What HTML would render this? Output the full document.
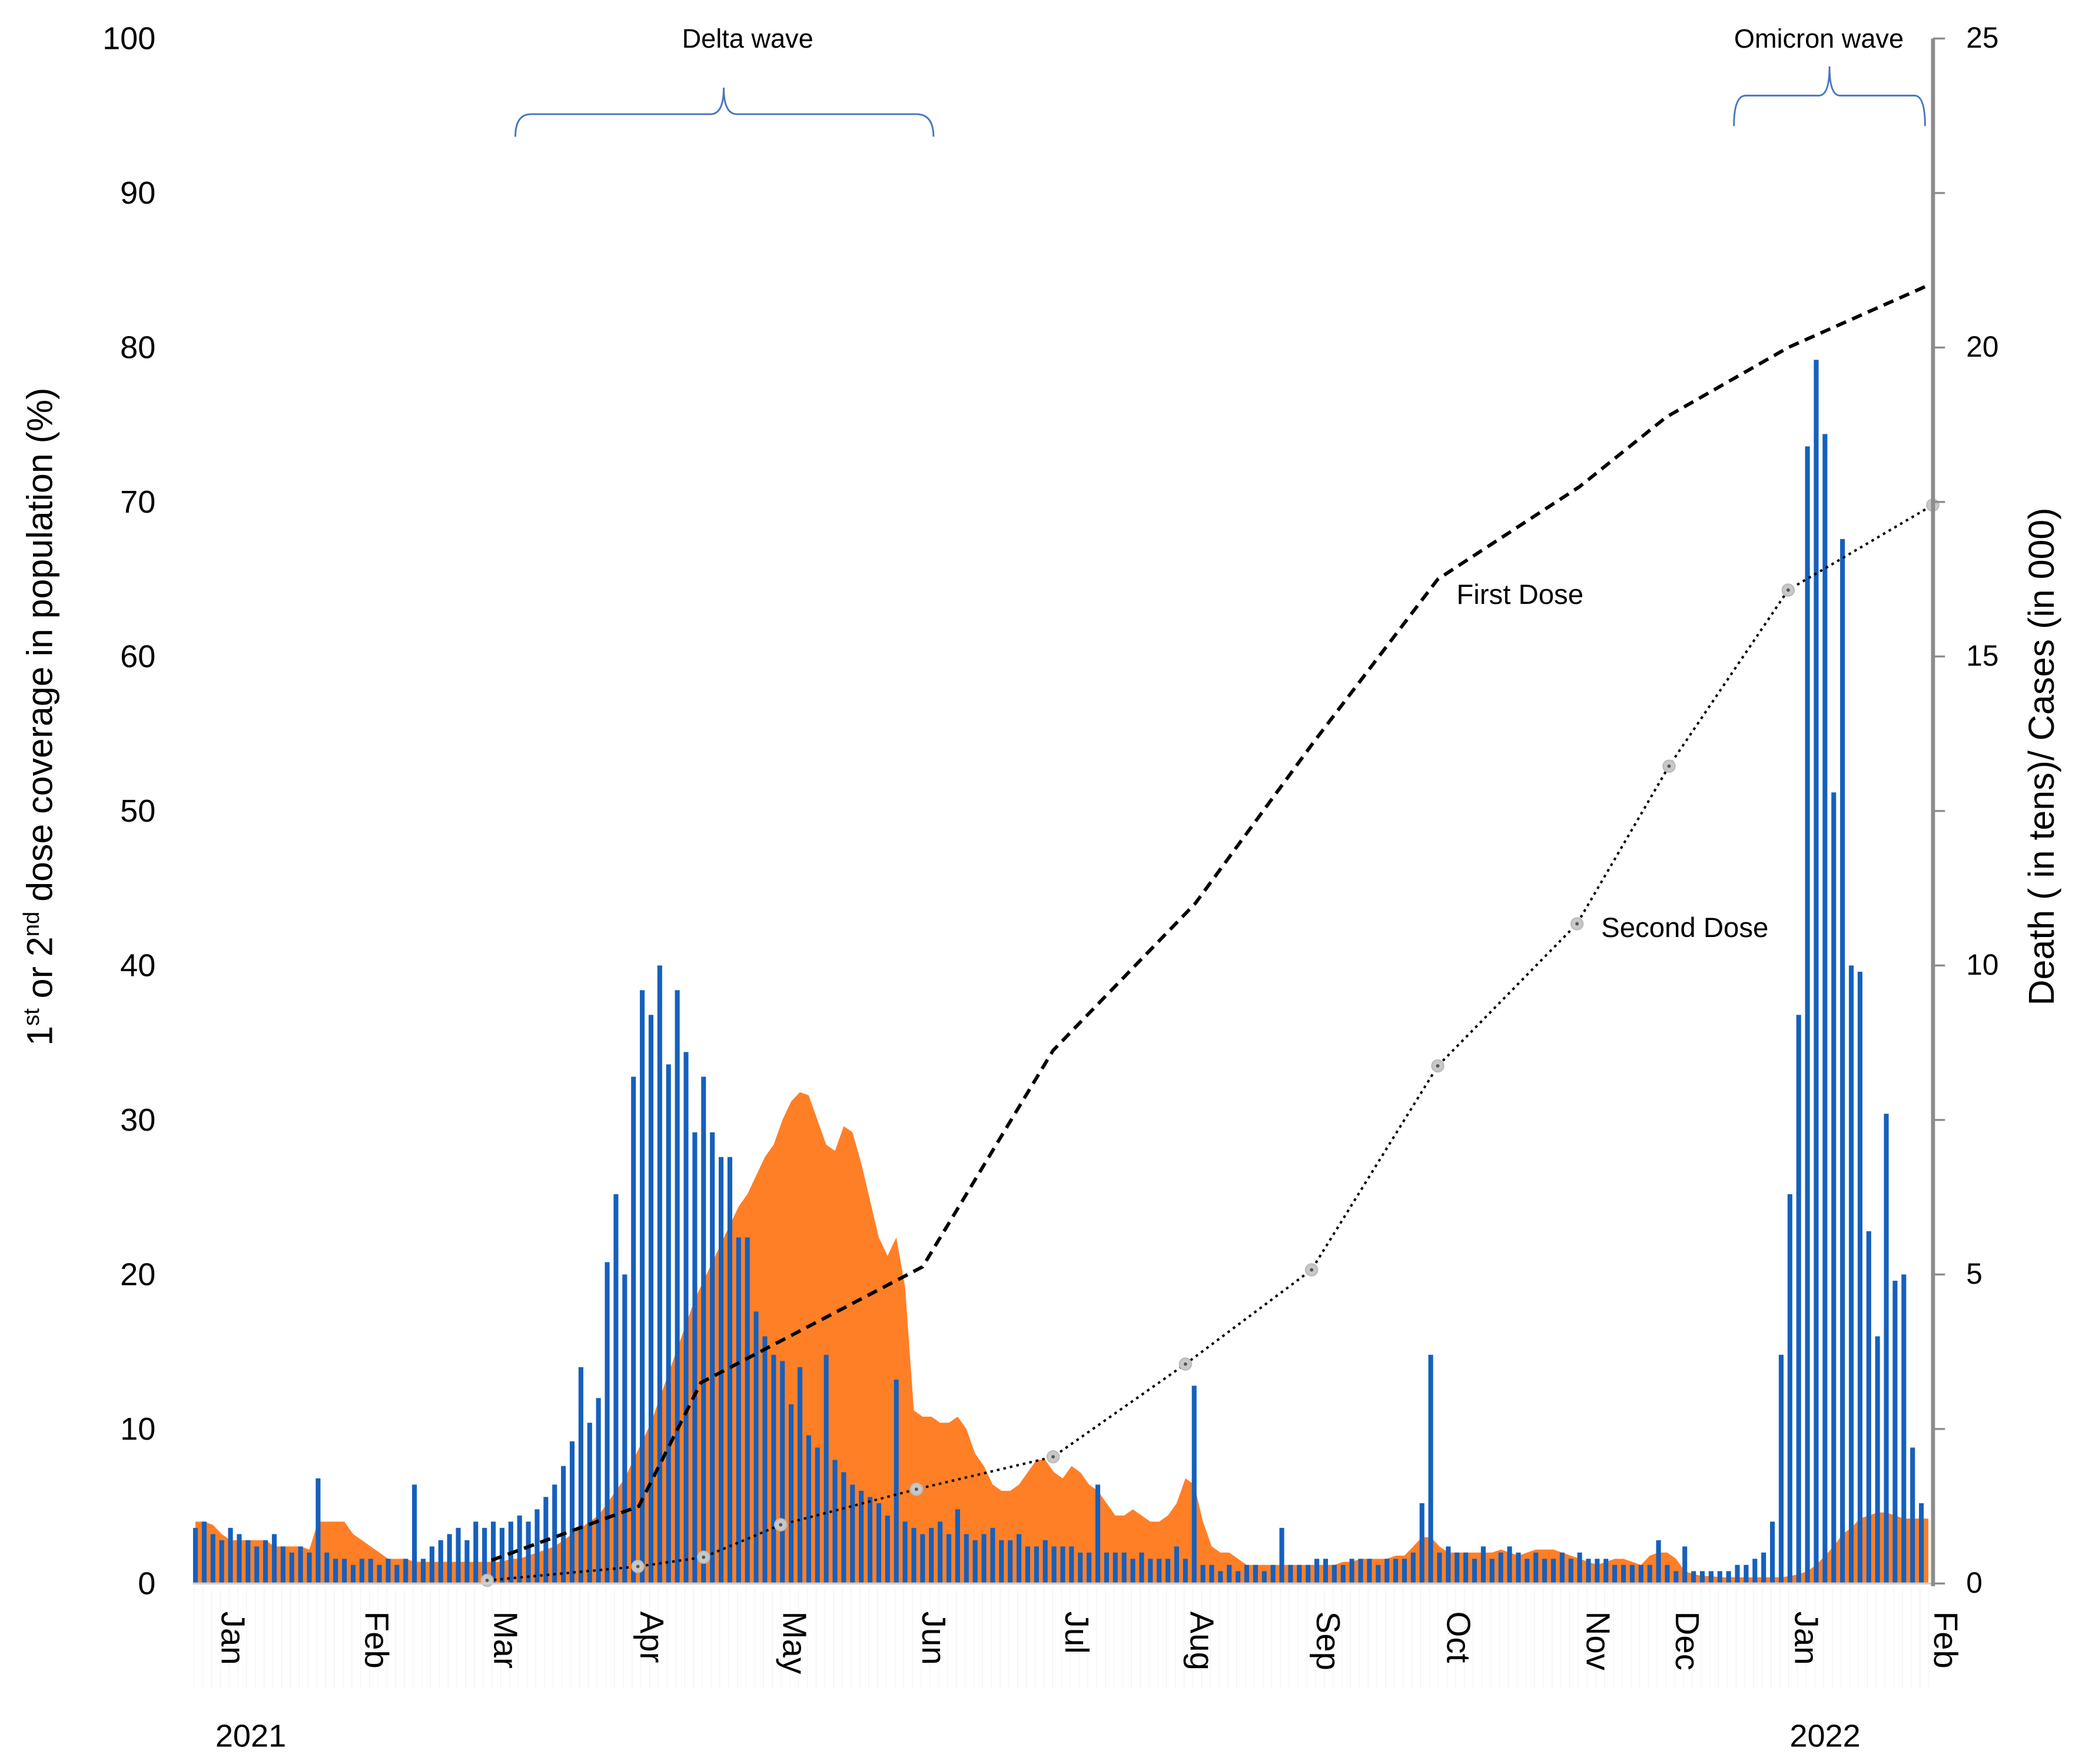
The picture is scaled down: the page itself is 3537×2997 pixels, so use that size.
<!DOCTYPE html>
<html><head><meta charset="utf-8"><style>
html,body{margin:0;padding:0;background:#fff;}
svg{display:block;}
text{font-family:"Liberation Sans",sans-serif;}
</style></head><body>
<svg id="chart" width="3537" height="2997" viewBox="0 0 1568 1329" xmlns="http://www.w3.org/2000/svg">
<g id="bg-layer"></g>
<g id="area-layer"></g>
<g id="bar-layer"></g>
<g id="line-layer"></g>
<g id="axis-layer"></g>
</svg>
<script>
const casesK = [0.9,1.0,0.8,0.7,0.9,0.8,0.7,0.6,0.7,0.8,0.6,0.5,0.6,0.5,1.7,0.5,0.4,
0.4,0.3,0.4,0.4,0.3,0.4,0.3,0.4,1.6,0.4,0.6,0.7,0.8,0.9,0.7,1.0,
0.9,1.0,0.9,1.0,1.1,1.0,1.2,1.4,1.6,1.9,2.3,3.5,2.6,3.0,5.2,6.3,
5.0,8.2,9.6,9.2,10.0,8.4,9.6,8.6,7.3,8.2,7.3,6.9,6.9,5.6,5.6,4.4,4.0,
3.7,3.6,2.9,3.5,2.4,2.2,3.7,2.0,1.8,1.6,1.5,1.4,1.3,1.1,3.3,1.0,0.9,0.8,
0.9,1.0,0.8,1.2,0.8,0.7,0.8,0.9,0.7,0.7,0.8,0.6,0.6,0.7,0.6,0.6,
0.6,0.5,0.5,1.6,0.5,0.5,0.5,0.4,0.5,0.4,0.4,0.4,0.6,0.4,3.2,
0.3,0.3,0.2,0.3,0.2,0.3,0.3,0.2,0.3,0.9,0.3,0.3,0.3,0.4,
0.4,0.3,0.3,0.4,0.4,0.4,0.3,0.4,0.4,0.4,0.5,1.3,3.7,0.5,0.6,
0.5,0.5,0.4,0.6,0.4,0.5,0.6,0.5,0.4,0.5,0.4,0.4,0.5,0.4,0.5,0.4,
0.4,0.4,0.3,0.3,0.3,0.3,0.3,0.7,0.3,0.2,0.6,0.2,0.2,0.2,0.2,0.2,
0.3,0.3,0.4,0.5,1.0,3.7,6.3,9.2,18.4,19.8,18.6,12.8,16.9,10.0,9.9,5.7,4.0,7.6,4.9,5.0,2.2,1.3];
const deathsTens = [1.0,1.0,0.95,0.8,0.7,0.7,0.7,0.7,0.7,0.6,0.6,0.6,0.6,0.55,1.0,1.0,1.0,
1.0,0.8,0.7,0.6,0.5,0.4,0.4,0.4,0.35,0.35,0.35,0.35,0.35,0.35,0.35,0.35,
0.35,0.35,0.35,0.4,0.4,0.45,0.5,0.55,0.6,0.7,0.8,0.9,1.0,1.1,1.3,1.5,
1.7,2.0,2.3,2.6,3.0,3.4,3.8,4.2,4.6,4.9,5.2,5.5,5.8,6.1,6.3,6.6,6.9,
7.1,7.5,7.8,7.95,7.9,7.5,7.1,7.0,7.4,7.3,6.8,6.2,5.6,5.3,5.6,4.8,2.8,2.7,
2.7,2.6,2.6,2.7,2.5,2.1,1.9,1.6,1.5,1.5,1.6,1.8,2.0,2.0,1.8,1.7,
1.9,1.8,1.6,1.5,1.3,1.1,1.1,1.2,1.1,1.0,1.0,1.1,1.3,1.7,1.6,
1.0,0.6,0.5,0.5,0.4,0.3,0.3,0.3,0.3,0.3,0.3,0.3,0.3,0.3,
0.3,0.3,0.35,0.35,0.4,0.4,0.4,0.4,0.45,0.45,0.6,0.75,0.75,0.6,0.5,
0.5,0.5,0.5,0.5,0.5,0.55,0.5,0.45,0.5,0.55,0.55,0.55,0.5,0.45,0.4,0.35,
0.3,0.35,0.4,0.4,0.35,0.3,0.45,0.5,0.5,0.4,0.2,0.15,0.12,0.12,0.1,0.1,
0.1,0.1,0.1,0.1,0.1,0.1,0.12,0.15,0.2,0.3,0.45,0.6,0.8,0.9,1.05,1.1,1.15,1.15,1.1,1.05,1.05,1.05];
const firstDoseDates = [33.8,50.6,57.7,83,97.9,114.1,127.7,141.8,158,167.9,181.8,197.7];
const firstDosePct = [1.5,5,13,20.5,34.5,44,54.5,65,71,75.5,80,84];
const secondDoseDates = [33.3,50.5,58,66.8,82.3,97.9,113,127.4,141.8,157.7,168.2,181.8,198.3];
const secondDosePct = [0.2,1.1,1.7,3.8,6.1,8.2,14.2,20.3,33.5,42.7,52.9,64.3,69.8];
const monthLabels = ["Jan","Feb","Mar","Apr","May","Jun","Jul","Aug","Sep","Oct","Nov","Dec","Jan","Feb"];
const monthDates = [4.2,20.6,35.3,52,68.3,84.2,100.5,114.8,129.2,144.1,160,170.2,183.8,199.7];
const leftTicks = [0,10,20,30,40,50,60,70,80,90,100];
const rightTicks = [0,5,10,15,20,25];

const NS="http://www.w3.org/2000/svg";
const X0=147, STEP=6.6, Y0=1193, YTOP=29;
const x = i => X0 + i*STEP;
const yL = v => Y0 - v*(Y0-YTOP)/100;
const yR = v => Y0 - v*(Y0-YTOP)/25;
function mk(tag, attrs, parent, txt){const e=document.createElementNS(NS,tag);for(const k in attrs)e.setAttribute(k,attrs[k]);if(txt!==undefined)e.textContent=txt;parent.appendChild(e);return e;}
const areaL=document.getElementById('area-layer'),barL=document.getElementById('bar-layer'),lineL=document.getElementById('line-layer'),axL=document.getElementById('axis-layer'),bgL=document.getElementById('bg-layer');

for(let i=0;i<=198;i+=1){mk('line',{x1:x(i)-1,x2:x(i)-1,y1:1196,y2:1272,stroke:'#f3f3f3','stroke-width':0.6},bgL);}

let d='M'+x(0)+','+Y0;
deathsTens.forEach((v,i)=>{d+=' L'+x(i).toFixed(1)+','+yR(v).toFixed(1);});
d+=' L'+x(deathsTens.length-1+0.8)+','+yR(deathsTens[deathsTens.length-1])+' L'+x(deathsTens.length-1+0.8)+','+Y0+' Z';
const area=mk('path',{d:d,fill:'#ff7f27'},areaL);



casesK.forEach((v,i)=>{
  const b=mk('rect',{x:(x(i)-1.8).toFixed(1),y:yR(v).toFixed(1),width:3.6,height:(Y0-yR(v)).toFixed(1),fill:'#1560bd'},barL);
  
  
});

function line(dates,vals,dash,w,name){
  const pts=dates.map((t,i)=>x(t).toFixed(1)+','+yL(vals[i]).toFixed(1)).join(' ');
  const p=mk('polyline',{points:pts,fill:'none',stroke:'#000','stroke-width':w,'stroke-dasharray':dash},lineL);
  
  
}
line(firstDoseDates,firstDosePct,'8,5',2.6,'first-dose-line');
line(secondDoseDates,secondDosePct,'2,3',1.8,'second-dose-line');
secondDoseDates.forEach((t,i)=>{
  const c=mk('circle',{cx:x(t),cy:yL(secondDosePct[i]),r:4.5,fill:'#c8c8c8',stroke:'#bbb','stroke-width':1},lineL);
  
  
  mk('circle',{cx:x(t),cy:yL(secondDosePct[i]),r:1.3,fill:'#555'},lineL);
});

mk('line',{x1:145,x2:1456,y1:Y0,y2:Y0,stroke:'#d0d0d0','stroke-width':1.5},axL);
const ra=mk('line',{x1:1456,x2:1456,y1:YTOP,y2:Y0+2,stroke:'#8c8c8c','stroke-width':3},axL);


for(let v=0;v<=25;v+=2.5){mk('line',{x1:1456,x2:1465,y1:yR(v),y2:yR(v),stroke:'#8c8c8c','stroke-width':1.5},axL);}
leftTicks.forEach(v=>{
  const t=mk('text',{x:117,y:yL(v)+8,'text-anchor':'end','font-size':24,fill:'#000'},axL,String(v));
  
  
});
rightTicks.forEach(v=>{
  const t=mk('text',{x:1481,y:yR(v)+7,'text-anchor':'start','font-size':22,fill:'#000'},axL,String(v));
  
  
});
monthLabels.forEach((m,i)=>{
  const cx=x(monthDates[i]);
  const t=mk('text',{x:0,y:0,transform:'translate('+(cx-8)+',1214) rotate(90)','font-size':25,fill:'#000'},axL,m);
  
  
});
</script>
<svg style="position:absolute;left:0;top:0" width="3537" height="2997" viewBox="0 0 1568 1329" xmlns="http://www.w3.org/2000/svg">
<text x="162" y="1316" font-size="24">2021</text>
<text x="1348" y="1316" font-size="24">2022</text>
<text x="563" y="36" font-size="20" text-anchor="middle">Delta wave</text>
<text x="1370" y="36" font-size="20" text-anchor="middle">Omicron wave</text>
<path d="M388,103 Q388,86 400,86 L535,86 Q545,86 545,66 Q545,86 555,86 L690,86 Q703,86 703,103" fill="none" stroke="#4a76c0" stroke-width="1.3"/>
<path d="M1306,95 Q1306,72 1315,72 L1370,72 Q1378,72 1378,50 Q1378,72 1386,72 L1442,72 Q1450,72 1450,95" fill="none" stroke="#4a76c0" stroke-width="1.3"/>
<text x="1097" y="455" font-size="21">First Dose</text>
<text x="1206" y="706" font-size="21">Second Dose</text>
<text transform="translate(39,540) rotate(-90)" font-size="27" text-anchor="middle">1<tspan font-size="17" dy="-10">st</tspan><tspan dy="10"> or 2</tspan><tspan font-size="17" dy="-10">nd</tspan><tspan dy="10"> dose coverage in population (%)</tspan></text>
<text transform="translate(1547,570) rotate(-90)" font-size="27" text-anchor="middle">Death ( in tens)/ Cases (in 000)</text>
</svg>
</body></html>
